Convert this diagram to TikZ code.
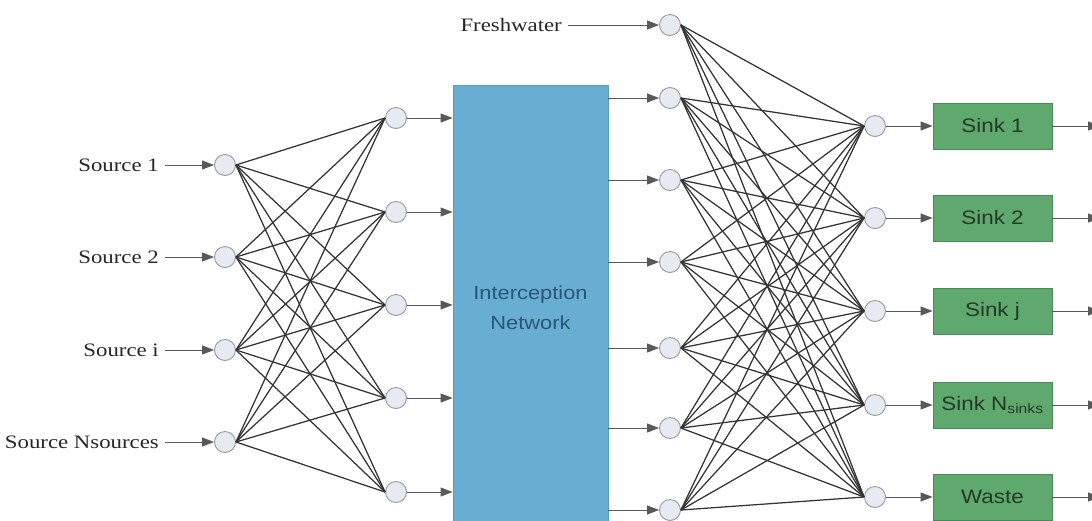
\documentclass[tikz,border=0pt]{standalone}
\usepackage{fontspec}
\setmainfont[FakeStretch=1.2]{Liberation Serif}
\newfontfamily\boxfont[FakeStretch=1.15]{Liberation Sans}
\usetikzlibrary{arrows.meta,positioning}

\definecolor{netblue}{HTML}{68AED3}
\definecolor{netedge}{HTML}{5A9CC2}
\definecolor{nettext}{HTML}{2A5673}
\definecolor{sinkgreen}{HTML}{5FA86E}
\definecolor{sinkedge}{HTML}{4A8A58}
\definecolor{sinktext}{HTML}{233A27}
\definecolor{pfill}{HTML}{E6EAF3}

\tikzset{
  pnode/.style={circle,draw=gray!80,fill=pfill,line width=0.9pt,
    minimum size=21pt,inner sep=0pt},
  lbl/.style={font=\fontsize{19}{20}\selectfont,text=black!85,
    inner ysep=2pt,inner xsep=6pt},
  flow/.style={draw=black!65,line width=1pt},
  web/.style={draw=black!80,line width=1.25pt},
  netbox/.style={draw=netedge,fill=netblue,line width=0.8pt,
    minimum width=155pt,minimum height=445pt,align=center,
    text=nettext,font=\boxfont\fontsize{19}{30}\selectfont},
  sinkbox/.style={draw=sinkedge,fill=sinkgreen,line width=0.8pt,
    minimum width=119pt,minimum height=46pt,
    text=sinktext,font=\boxfont\fontsize{19.5}{20}\selectfont},
}

\begin{document}
\begin{tikzpicture}[x=1pt,y=-1pt,>={Triangle[length=12pt,width=9pt]}]
\useasboundingbox (0,0) rectangle (1092,520);

% sources
\foreach \n/\y/\t in {1/165/Source 1,2/257/Source 2,3/350/Source i,4/442/Source Nsources}{
  \node[pnode] (src\n) at (225,\y) {};
  \node[lbl,anchor=east] (lsrc\n) at (165,\y) {\t};
  \draw[flow,->] (lsrc\n) -- (src\n);
}

% splitters
\foreach \n/\y in {1/118,2/212,3/305,4/398,5/492}
  \node[pnode] (spl\n) at (396,\y) {};

\foreach \i in {1,...,4}
  \foreach \j in {1,...,5}
    \draw[web] (src\i.east) -- (spl\j.west);

% interception network
\node[netbox] (net) at (530.5,307.5) {Interception\\Network};
\foreach \n in {1,...,5}
  \draw[flow,->] (spl\n) -- (spl\n -| net.west);

% mixers after the network
\node[pnode] (mid0) at (670,25) {};
\node[lbl,anchor=east] (lfresh) at (568,25) {Freshwater};
\draw[flow,->] (lfresh) -- (mid0);
\foreach \n/\y in {1/98,2/180,3/262,4/348,5/428,6/510}{
  \node[pnode] (mid\n) at (670,\y) {};
  \draw[flow,->] (mid\n -| net.east) -- (mid\n);
}

% sinks
\foreach \n/\y/\t in {1/126/Sink 1,2/218/Sink 2,3/311/Sink j,
    4/405/Sink N\textsubscript{sinks},5/497/Waste}{
  \node[pnode] (mix\n) at (875,\y) {};
  \node[sinkbox] (snk\n) at (992.5,\y) {\t};
  \coordinate (out\n) at (1100,\y);
  \draw[flow,->] (mix\n) -- (snk\n);
  \draw[flow,->] (snk\n) -- (out\n);
}

\foreach \i in {0,...,6}
  \foreach \j in {1,...,5}
    \draw[web] (mid\i.east) -- (mix\j.west);
\end{tikzpicture}
\end{document}
